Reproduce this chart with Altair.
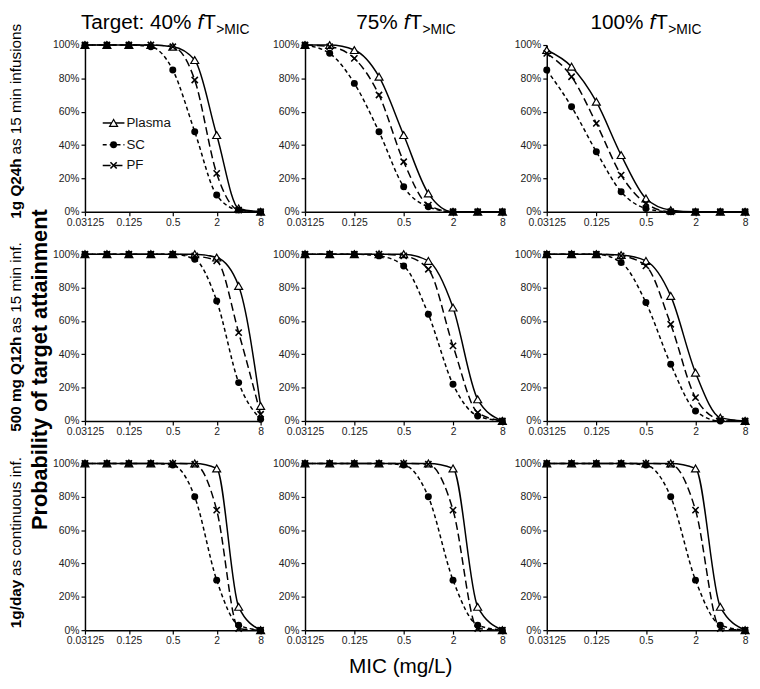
import altair as alt
import pandas as pd

# ---------------- data ----------------
mic = [0.03125, 0.0625, 0.125, 0.25, 0.5, 1, 2, 4, 8]
mic_ticks = [0.03125, 0.125, 0.5, 2, 8]
pct_ticks = [0, 0.2, 0.4, 0.6, 0.8, 1.0]
series_names = ["Plasma", "SC", "PF"]

target_prefix = ["Target: 40%", "75%", "100%"]
regimen_bold = ["1g Q24h", "500 mg Q12h", "1g/day"]
regimen_rest = ["as 15 min infusions", "as 15 min inf.", "as continuous inf."]
y_title = "Probability of target attainment"
x_title = "MIC (mg/L)"

# Row 1: 1 g Q24h as 15 min infusions
q24_40_plasma = [100, 100, 100, 100, 99, 91, 46, 2, 0]
q24_40_sc = [100, 100, 100, 99, 85, 48, 10, 1, 0]
q24_40_pf = [100, 100, 100, 100, 99, 79, 23, 1, 0]
q24_75_plasma = [100, 100, 97, 81, 46, 11, 0, 0, 0]
q24_75_sc = [100, 95, 77, 48, 15, 3, 0, 0, 0]
q24_75_pf = [100, 99, 92, 70, 30, 4, 0, 0, 0]
q24_100_plasma = [97, 87, 66, 34, 8, 1, 0, 0, 0]
q24_100_sc = [85, 63, 36, 12, 2, 0, 0, 0, 0]
q24_100_pf = [95, 81, 53, 22, 5, 0, 0, 0, 0]

# Row 2: 500 mg Q12h as 15 min infusions
q12_40_plasma = [100, 100, 100, 100, 100, 100, 98, 81, 9]
q12_40_sc = [100, 100, 100, 100, 100, 97, 72, 23, 1]
q12_40_pf = [100, 100, 100, 100, 100, 99, 96, 53, 4]
q12_75_plasma = [100, 100, 100, 100, 100, 96, 68, 13, 0]
q12_75_sc = [100, 100, 100, 99, 93, 64, 22, 3, 0]
q12_75_pf = [100, 100, 100, 100, 99, 91, 45, 5, 0]
q12_100_plasma = [100, 100, 100, 99.5, 96, 75, 29, 2, 0]
q12_100_sc = [100, 100, 100, 95, 71, 34, 6, 0, 0]
q12_100_pf = [100, 100, 100, 99, 93, 58, 14, 1, 0]

# Row 3: 1 g/day as continuous infusion
ci_40_plasma = [100, 100, 100, 100, 100, 100, 97, 14, 0]
ci_40_sc = [100, 100, 100, 100, 99, 80, 30, 3, 0]
ci_40_pf = [100, 100, 100, 100, 100, 99.5, 72, 1, 0]
ci_75_plasma = [100, 100, 100, 100, 100, 100, 97, 14, 0]
ci_75_sc = [100, 100, 100, 100, 99, 80, 30, 3, 0]
ci_75_pf = [100, 100, 100, 100, 100, 99.5, 72, 1, 0]
ci_100_plasma = [100, 100, 100, 100, 100, 100, 97, 14, 0]
ci_100_sc = [100, 100, 100, 100, 99, 80, 30, 3, 0]
ci_100_pf = [100, 100, 100, 100, 100, 99.5, 72, 1, 0]

panel_data = [
    [(q24_40_plasma, q24_40_sc, q24_40_pf), (q24_75_plasma, q24_75_sc, q24_75_pf), (q24_100_plasma, q24_100_sc, q24_100_pf)],
    [(q12_40_plasma, q12_40_sc, q12_40_pf), (q12_75_plasma, q12_75_sc, q12_75_pf), (q12_100_plasma, q12_100_sc, q12_100_pf)],
    [(ci_40_plasma, ci_40_sc, ci_40_pf), (ci_75_plasma, ci_75_sc, ci_75_pf), (ci_100_plasma, ci_100_sc, ci_100_pf)],
]

# ---------------- styling ----------------
SANS = "Liberation Sans, Arial, sans-serif"
col_widths = [178, 200, 201]
PH = 169
dash = {"Plasma": None, "SC": [4, 3], "PF": [8, 4]}
X_PATH = "M-1,-1L1,1M-1,1L1,-1"


def txt(text, **kw):
    enc = {}
    for k in ("x", "y"):
        enc[k] = alt.value(kw.pop(k))
    return alt.Chart(pd.DataFrame({"t": [text]})).mark_text(**kw).encode(text="t:N", **enc)


def point_style(s):
    if s == "Plasma":
        return dict(shape="triangle-up", filled=True, fill="white", stroke="black", strokeWidth=1.2, size=65, opacity=1)
    if s == "SC":
        return dict(shape="circle", filled=True, color="black", size=50, opacity=1)
    return dict(shape=X_PATH, filled=False, color="black", strokeWidth=1.6, size=40, opacity=1)


def legend_layers():
    layers = []
    ys = [79, 101, 122]
    for s, yy in zip(series_names, ys):
        rk = dict(color="black", strokeWidth=1.5)
        if dash[s]:
            rk["strokeDash"] = dash[s]
        layers.append(
            alt.Chart(pd.DataFrame({"t": [s]})).mark_rule(**rk).encode(
                x=alt.value(18), x2=alt.value(40), y=alt.value(yy)
            )
        )
        layers.append(
            alt.Chart(pd.DataFrame({"t": [s]})).mark_point(**point_style(s)).encode(
                x=alt.value(29), y=alt.value(yy)
            )
        )
        layers.append(txt(s, x=42, y=yy, align="left", baseline="middle", font=SANS, fontSize=13.5, color="#111"))
    return layers


def panel(r, c):
    plasma, sc, pf = panel_data[r][c]
    vals = plasma + sc + pf
    df = pd.DataFrame({
        "MIC": mic * 3,
        "PTA": [v / 100 for v in vals],
        "Series": [s for s in series_names for _ in mic],
    })
    base = alt.Chart(df).encode(
        x=alt.X("MIC:Q", title=None,
                scale=alt.Scale(type="log", base=2, domain=[0.03125, 8], nice=False),
                axis=alt.Axis(values=mic_ticks, format="~g", labelFlush=False)),
        y=alt.Y("PTA:Q", title=None,
                scale=alt.Scale(domain=[0, 1], nice=False),
                axis=alt.Axis(values=pct_ticks, format=".0%")),
    )
    layers = []
    for s in series_names:
        lk = dict(color="black", strokeWidth=1.5, interpolate="monotone")
        if dash[s]:
            lk["strokeDash"] = dash[s]
        layers.append(base.transform_filter(alt.datum.Series == s).mark_line(**lk))
    for s in series_names:
        layers.append(base.transform_filter(alt.datum.Series == s).mark_point(**point_style(s)))

    # column titles
    if r == 0:
        split = [114, 100, 104][c]
        layers.append(txt(target_prefix[c], x=split - 6, y=-16, align="right", baseline="alphabetic",
                          font=SANS, fontSize=21, color="black"))
        layers.append(txt("f", x=split, y=-16, align="left", baseline="alphabetic",
                          font=SANS, fontSize=21, fontStyle="italic", color="black"))
        layers.append(txt("T", x=split + 6, y=-16, align="left", baseline="alphabetic",
                          font=SANS, fontSize=21, color="black"))
        layers.append(txt(">MIC", x=split + 19, y=-11, align="left", baseline="alphabetic",
                          font=SANS, fontSize=14, color="black"))
    # row labels
    if c == 0:
        bottoms = [176, 180, 167]
        boldw = [61, 96, 49]
        layers.append(txt(regimen_bold[r], x=-70, y=bottoms[r], angle=270, align="left", baseline="middle",
                          font=SANS, fontSize=15.5, fontWeight="bold", color="black"))
        layers.append(txt(regimen_rest[r], x=-70, y=bottoms[r] - boldw[r] - 4, angle=270, align="left",
                          baseline="middle", font=SANS, fontSize=15.5, color="black"))
    if r == 0 and c == 0:
        layers += legend_layers()
    if r == 1 and c == 0:
        layers.append(txt(y_title, x=-45, y=117, angle=270, align="center", baseline="middle",
                          font=SANS, fontSize=22, fontWeight="bold", color="black"))
    if r == 2 and c == 1:
        layers.append(txt(x_title, x=97, y=212, align="center", baseline="alphabetic",
                          font=SANS, fontSize=21, color="black"))
    return alt.layer(*layers).properties(width=col_widths[c], height=PH)


panels = [panel(r, c) for r in range(3) for c in range(3)]

chart = alt.concat(*panels, columns=3, spacing={"row": 43, "column": 45}, bounds="flush").properties(
    padding={"left": 0, "top": 0, "right": 0, "bottom": 0},
    background="white",
).configure_view(stroke=None).configure_axis(
    grid=False,
    domainColor="black",
    domainWidth=1.5,
    tickColor="black",
    tickWidth=1.2,
    tickSize=4,
    labelFont=SANS,
    labelFontSize=10.5,
    labelColor="#222",
    labelPadding=2,
)

chart.save("out.html", embed_options={"renderer": "svg", "actions": False})
